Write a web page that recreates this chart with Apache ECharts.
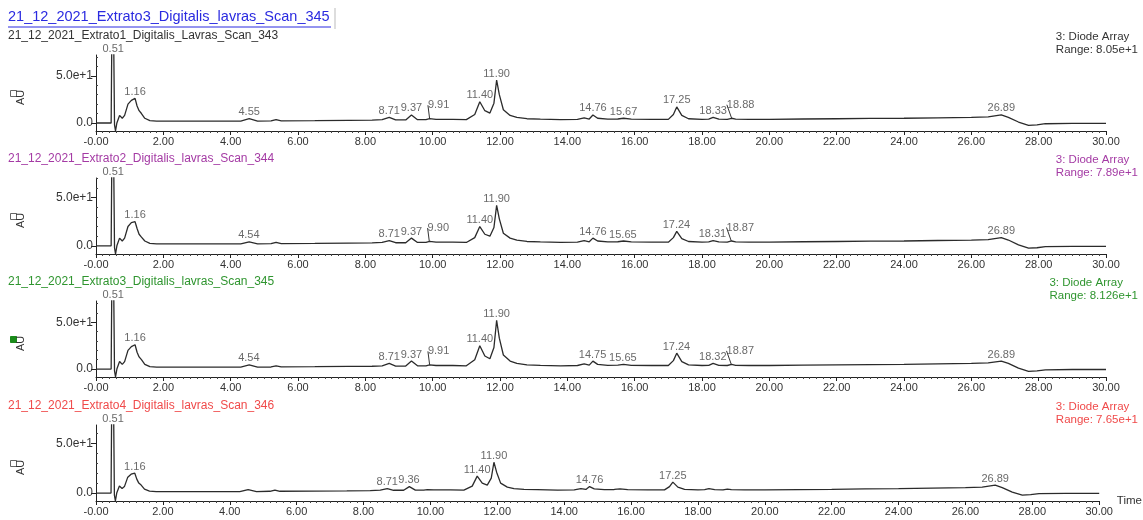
<!DOCTYPE html>
<html>
<head>
<meta charset="utf-8">
<script src="https://cdn.jsdelivr.net/npm/echarts@6/dist/echarts.min.js"></script>
<style>
html, body { margin: 0; padding: 0; background: #fff; }
#chromatogram { width: 1143px; height: 520px; }
</style>
</head>
<body>
<div id="chromatogram"></div>
<script>
// retention times (min) shared by the four traces
const times = [
  0, 0.45, 0.47, 0.495, 0.525, 0.55, 0.58, 0.62, 0.70, 0.78, 0.85,
  0.95, 1.05, 1.16, 1.22, 1.28, 1.35, 1.45, 1.60, 1.80, 2.50,
  3.50, 4.30, 4.55, 4.80, 5.20, 5.35, 5.50, 6.50, 7.50, 8.20,
  8.50, 8.71, 8.90, 9.20, 9.37, 9.55, 9.80, 9.91, 10.10, 10.60,
  11.00, 11.25, 11.40, 11.55, 11.70, 11.82, 11.90, 11.98, 12.10, 12.30,
  12.50, 12.80, 13.20, 13.80, 14.30, 14.50, 14.65, 14.76, 14.90, 15.20,
  15.50, 15.67, 15.90, 16.50, 17.00, 17.15, 17.25, 17.40, 17.60, 18.00,
  18.20, 18.33, 18.50, 18.75, 18.88, 19.00, 19.40, 20.00, 21.00, 22.00,
  23.00, 24.00, 25.00, 26.00, 26.50, 26.89, 27.10, 27.40, 27.70, 27.95,
  28.20, 29.00, 30.00
];

// absorbance (AU) per trace
const scan343 = [
  0, 0, 1, 200, 200, -2, -8.5, 0, 8, 5, 8,
  20, 24, 26, 18, 13, 10, 5, 2.5, 2, 2,
  2, 2, 4.5, 2, 2.2, 3.5, 2.3, 2.5, 2.8, 3,
  3.5, 6, 3.2, 3.2, 8.5, 3.5, 3.5, 4.5, 3.8, 3.8,
  3.5, 9, 22.5, 13, 10.5, 21, 45.5, 30, 14, 8,
  6, 4.5, 4, 3.5, 3.8, 5.5, 4.2, 8.5, 5, 4,
  4.2, 5, 4, 3.8, 3.8, 9, 17, 8, 4.5, 3.8,
  4, 6, 4, 3.8, 5, 4, 3.8, 3.8, 4.2, 4.5,
  4.8, 5, 5.5, 6, 6.5, 8.5, 6, 1, -2.5, -2,
  -0.8, -0.5, -0.5
];
const scan344 = [
  0, 0, 1, 200, 200, -2, -8.5, 0, 8, 5, 8,
  20, 24, 25, 18, 12, 9, 5, 2.5, 2, 2,
  2, 2, 4, 2, 2.2, 3.5, 2.3, 2.5, 2.8, 3,
  3.5, 5.5, 3.2, 3.2, 8, 3.5, 3.5, 4.5, 3.8, 3.8,
  3.5, 8.5, 20, 12, 10, 19, 42, 28, 13, 8,
  6, 4.5, 4, 3.5, 3.8, 5.5, 4.2, 8, 5, 4,
  4.2, 5, 4, 3.8, 3.8, 8.5, 15, 7.5, 4.5, 3.8,
  4, 5.5, 4, 3.8, 5, 4, 3.8, 3.8, 4.2, 4.5,
  4.8, 5, 5.5, 6, 6.5, 8.5, 6, 1, -2.5, -2,
  -0.8, -0.5, -0.5
];
const scan345 = [
  0, 0, 1, 200, 200, -2, -8.5, 0, 8, 5, 8,
  20, 24, 26, 18, 13, 10, 5, 2.5, 2, 2,
  2, 2, 4.5, 2, 2.2, 3.5, 2.3, 2.5, 2.8, 3,
  3.5, 6, 3.2, 3.2, 8.5, 3.5, 3.5, 4.5, 3.8, 3.8,
  3.5, 10, 25, 14, 11, 23, 52, 33, 15, 8.5,
  6, 4.5, 4, 3.5, 3.8, 5.5, 4.2, 8.5, 5, 4,
  4.2, 5, 4, 3.8, 3.8, 9, 17, 8, 4.5, 3.8,
  4, 6, 4, 3.8, 5, 4, 3.8, 3.8, 4.2, 4.5,
  4.8, 5, 5.5, 6, 6.5, 8.5, 6, 1, -2.5, -2,
  -0.8, -0.5, -0.5
];
const scan346 = [
  0, 0, 1, 200, 200, -2, -8, 0, 7, 4.5, 6.5,
  16, 19, 20, 14, 10, 8, 4, 2, 1.5, 1.5,
  1.5, 1.5, 3.5, 1.5, 1.8, 3, 1.8, 2, 2.2, 2.5,
  3, 4.5, 2.8, 2.8, 6.5, 3, 3, 3.5, 3.2, 3.2,
  3, 7, 17, 10, 8, 15, 31, 21, 10, 6,
  4.5, 3.8, 3.5, 3, 3.2, 4.5, 3.6, 6.5, 4.2, 3.5,
  3.6, 4.2, 3.4, 3.2, 3.2, 6.5, 11, 6, 3.8, 3.2,
  3.4, 4.5, 3.4, 3.2, 4, 3.4, 3.2, 3.2, 3.5, 3.8,
  4.2, 4.5, 5, 5.5, 6, 8, 5.5, 1, -2, -1.5,
  -0.5, -0.3, -0.3
];

// peak labels (text) and the height the label sits on
const peaks343 = ["0.51", "1.16", "4.55", "8.71", "9.37", "9.91", "11.40", "11.90", "14.76", "15.67", "17.25", "18.33", "18.88", "26.89"];
const peakY343 = [72, 26, 4.5, 6, 8.5, 4.5, 22.5, 45.5, 8.5, 5, 17, 6, 5, 8.5];
const peaks344 = ["0.51", "1.16", "4.54", "8.71", "9.37", "9.90", "11.40", "11.90", "14.76", "15.65", "17.24", "18.31", "18.87", "26.89"];
const peakY344 = [70.4, 25, 4, 5.5, 8, 4.5, 20, 42, 8, 5, 15, 5.5, 5, 8.5];
const peaks345 = ["0.51", "1.16", "4.54", "8.71", "9.37", "9.91", "11.40", "11.90", "14.75", "15.65", "17.24", "18.32", "18.87", "26.89"];
const peakY345 = [72.76, 26, 4.5, 6, 8.5, 4.5, 25, 52, 8.5, 5, 17, 6, 5, 8.5];
const peaks346 = ["0.51", "1.16", "8.71", "9.36", "11.40", "11.90", "14.76", "17.25", "26.89"];
const peakY346 = [68.5, 20, 4.5, 6.5, 17, 31, 6.5, 11, 8];
const leaderPeaks = ["9.91", "9.90", "18.88", "18.87"];

const scanNames = [
  "21_12_2021_Extrato1_Digitalis_Lavras_Scan_343",
  "21_12_2021_Extrato2_Digitalis_lavras_Scan_344",
  "21_12_2021_Extrato3_Digitalis_lavras_Scan_345",
  "21_12_2021_Extrato4_Digitalis_lavras_Scan_346"
];
const scanColors = ["#333333", "#a43aa4", "#2f952f", "#f04a4a"];
const rangeTexts = ["Range: 8.05e+1", "Range: 7.89e+1", "Range: 8.126e+1", "Range: 7.65e+1"];
const yMins = [-8.5, -8.5, -8.5, -8];
const yMaxs = [72, 70.4, 72.76, 68.5];
const traces = [scan343, scan344, scan345, scan346];
const peakTexts = [peaks343, peaks344, peaks345, peaks346];
const peakHeights = [peakY343, peakY344, peakY345, peakY346];

const yTicks = [0, 50];
const yMinorTicks = [10, 20, 30, 40, 60, 70];

const font = "Liberation Sans, Arial, sans-serif";
const panelTops = [55, 178, 301, 425];
const panelHeight = 76;

let chart = echarts.init(document.getElementById("chromatogram"));

let grids = [], xAxes = [], yAxes = [], series = [], graphics = [];

// header tab
graphics.push({
  type: "text", left: 8, top: 9,
  style: { text: "21_12_2021_Extrato3_Digitalis_lavras_Scan_345", fill: "#2a2ae0", font: "14.5px " + font }
});
graphics.push({ type: "line", shape: { x1: 8, y1: 27, x2: 331, y2: 27 }, style: { stroke: "#2a2ae0", lineWidth: 1 } });
graphics.push({ type: "line", shape: { x1: 335, y1: 8, x2: 335, y2: 29 }, style: { stroke: "#bbb", lineWidth: 1 } });

for (let p = 0; p < 4; p++) {
  let top = panelTops[p];
  grids.push({ left: 96, width: 1010, top: top, height: panelHeight });

  xAxes.push({
    gridIndex: p,
    type: "value",
    min: 0,
    max: 30,
    interval: 2,
    name: p === 3 ? "Time" : "",
    nameLocation: "end",
    nameGap: 6,
    nameTextStyle: { color: "#333", fontSize: 11.5, fontFamily: font, verticalAlign: "middle", padding: [4, 0, 0, 0] },
    axisLine: { onZero: false, lineStyle: { color: "#222", width: 1 } },
    axisTick: { show: true, length: 4, lineStyle: { color: "#222" } },
    minorTick: { show: true, splitNumber: 10, length: 2, lineStyle: { color: "#444" } },
    axisLabel: {
      color: "#333", fontSize: 11, fontFamily: font, margin: 5,
      formatter: function (v) { return v === 0 ? "-0.00" : v.toFixed(2); }
    },
    splitLine: { show: false }
  });

  // main y axis with the two labelled ticks
  yAxes.push({
    gridIndex: p,
    type: "value",
    min: yMins[p],
    max: yMaxs[p],
    axisLine: { show: true, onZero: false, lineStyle: { color: "#222" } },
    axisTick: { show: true, length: 5, customValues: yTicks, lineStyle: { color: "#222" } },
    axisLabel: {
      customValues: yTicks, color: "#333", fontSize: 12, fontFamily: font, margin: 3,
      formatter: function (v) { return v === 0 ? "0.0" : v.toExponential(1); }
    },
    splitLine: { show: false }
  });
  // minor y ticks
  yAxes.push({
    gridIndex: p,
    type: "value",
    min: yMins[p],
    max: yMaxs[p],
    axisLine: { show: false },
    axisTick: { show: true, length: 2, customValues: yMinorTicks, lineStyle: { color: "#444" } },
    axisLabel: { show: false },
    splitLine: { show: false }
  });

  series.push({
    type: "line",
    xAxisIndex: p,
    yAxisIndex: p * 2,
    showSymbol: false,
    symbol: "none",
    silent: true,
    data: times.map((t, i) => [t, traces[p][i]]),
    lineStyle: { color: "#2b2b2b", width: 1.3 }
  });

  series.push({
    type: "scatter",
    xAxisIndex: p,
    yAxisIndex: p * 2,
    symbolSize: 0,
    silent: true,
    clip: false,
    data: peakTexts[p].map((s, i) => {
      let item = { value: [parseFloat(s), peakHeights[p][i]], name: s };
      if (leaderPeaks.indexOf(s) > -1) item.labelLine = { show: true };
      return item;
    }),
    label: {
      show: true, position: "top", distance: 1,
      color: "#444", fontSize: 11, fontFamily: font,
      formatter: function (d) { return d.name; }
    },
    labelLine: { show: false, lineStyle: { color: "#333", width: 1 } },
    labelLayout: function (params) {
      if (leaderPeaks.indexOf(params.text) > -1) return { dx: 9, dy: -7 };
    }
  });

  // panel title and detector info
  graphics.push({
    type: "text", left: 8, top: top - 25,
    style: { text: scanNames[p], fill: scanColors[p], font: "12px " + font }
  });
  graphics.push({
    type: "text", right: 5, top: top - 25,
    style: { text: "3: Diode Array\n" + rangeTexts[p], fill: scanColors[p], font: "11.5px " + font, align: "right", lineHeight: 13 }
  });
  // AU label with the trace marker box
  graphics.push({
    type: "rect", left: 10, top: top + 35,
    shape: { width: 6, height: 6 },
    style: p === 2 ? { fill: "#1a8a1a", stroke: "#1a8a1a" } : { fill: "#fff", stroke: "#666", lineWidth: 1 }
  });
  graphics.push({
    type: "text", x: 15, y: top + 50, rotation: Math.PI / 2,
    style: { text: "AU", fill: "#333", font: "11px " + font, verticalAlign: "top" }
  });
}

let option = {
  animation: false,
  backgroundColor: "#fff",
  textStyle: { fontFamily: font },
  grid: grids,
  xAxis: xAxes,
  yAxis: yAxes,
  series: series,
  graphic: graphics
};
chart.setOption(option);
</script>
</body>
</html>
